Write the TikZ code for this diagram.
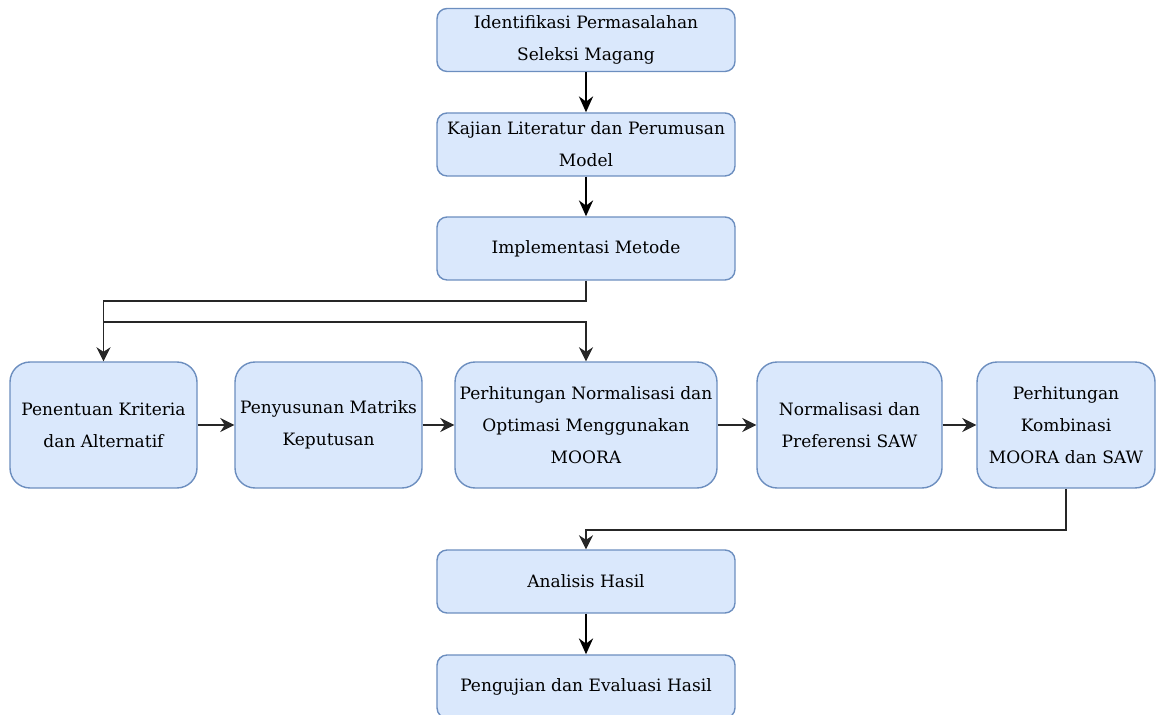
\documentclass[tikz,border=0pt]{standalone}
\usepackage{fontspec}
\setmainfont{DejaVu Serif}
\usetikzlibrary{arrows.meta}
\definecolor{boxfill}{HTML}{DAE8FC}
\definecolor{boxline}{HTML}{6C8EBF}
\begin{document}
\begin{tikzpicture}[x=0.02cm,y=-0.02cm]
\tikzstyle{tbox}=[draw=boxline,fill=boxfill,line width=0.8pt,rounded corners=0.2cm,minimum width=5.96cm,minimum height=1.26cm,inner xsep=1pt,align=center,font=\fontsize{9.7}{18.2}\selectfont]
\tikzstyle{rbox}=[tbox,rounded corners=0.4cm,minimum height=2.52cm]
\tikzstyle{tarrow}=[line width=1.6pt,-{Stealth[length=9pt,width=8pt]}]
\tikzstyle{larrow}=[line width=1.1pt,draw=black!85,-{Stealth[length=8pt,width=8pt]}]

\useasboundingbox (0,0) rectangle (1158,715);

\node[tbox] (ident) at (586,40) {Identifikasi Permasalahan\\Seleksi Magang};
\node[tbox] (kajian) at (586,144.5) {Kajian Literatur dan Perumusan\\Model};
\node[tbox] (impl) at (586,248.5) {Implementasi Metode};

\foreach \name/\x/\w/\txt in {krit/103.5/187/{Penentuan Kriteria\\dan Alternatif},
    matriks/328.5/187/{Penyusunan Matriks\\Keputusan},
    moora/586/262/{Perhitungan Normalisasi dan\\Optimasi Menggunakan\\MOORA},
    saw/849.5/185/{Normalisasi dan\\Preferensi SAW},
    komb/1066/178/{Perhitungan\\Kombinasi\\MOORA dan SAW}}
{
    \node[rbox,minimum width=\w*0.02cm] (\name) at (\x,425) {\txt};
}

\node[tbox] (anal) at (586,581.5) {Analisis Hasil};
\node[tbox] (uji) at (586,686.5) {Pengujian dan Evaluasi Hasil};

\draw[tarrow] (ident) -- (kajian);
\draw[tarrow] (kajian) -- (impl);
\draw[larrow] (impl.south) |- (103.5,301) coordinate (split) -- (krit.north);
\draw[larrow] (split) ++(0,21) -| (moora.north);
\foreach \a/\b in {krit/matriks,matriks/moora,moora/saw,saw/komb}
    \draw[larrow] (\a) -- (\b);
\draw[larrow] (komb.south) |- (586,530) -- (anal.north);
\draw[tarrow] (anal) -- (uji);
\end{tikzpicture}
\end{document}
